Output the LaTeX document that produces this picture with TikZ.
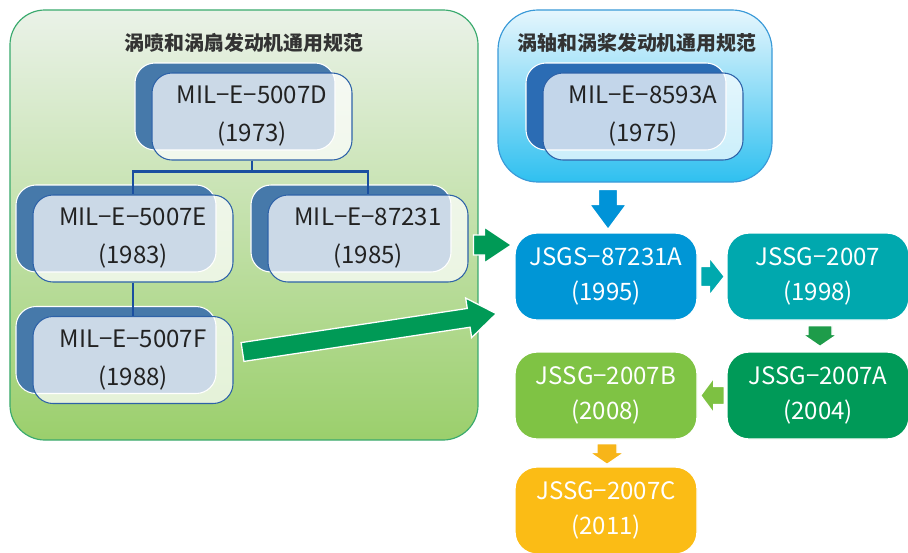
\documentclass[tikz,border=0pt]{standalone}
\usepackage{fontspec}
\setmainfont{Noto Sans CJK SC}
\usetikzlibrary{calc, shadows}
\definecolor{backblue}{RGB}{70,121,170}
\definecolor{backdeep}{RGB}{43,108,180}
\definecolor{frontline}{RGB}{46,98,168}
\definecolor{treeline}{RGB}{26,79,160}
\definecolor{textdark}{RGB}{34,34,34}
\definecolor{titlegray}{RGB}{51,51,51}
\definecolor{jetline}{RGB}{58,170,110}
\definecolor{jettop}{RGB}{234,242,232}
\definecolor{jetbottom}{RGB}{155,207,108}
\definecolor{shaftline}{RGB}{58,154,216}
\definecolor{shafttop}{RGB}{230,246,253}
\definecolor{shaftbottom}{RGB}{47,192,240}
\definecolor{jsgsblue}{RGB}{0,150,214}
\definecolor{jssgteal}{RGB}{0,168,174}
\definecolor{jssggreen}{RGB}{0,154,88}
\definecolor{jssglime}{RGB}{127,195,68}
\definecolor{jssgyellow}{RGB}{251,188,21}
\definecolor{arrowgreen}{RGB}{0,154,86}
\definecolor{arrowblue}{RGB}{0,147,216}
\definecolor{arrowteal}{RGB}{0,169,174}
\definecolor{arrowdark}{RGB}{30,156,74}
\definecolor{arrowlime}{RGB}{125,193,66}
\definecolor{arrowyellow}{RGB}{247,181,25}
\newcommand{\specfont}{\fontsize{20.5}{32.5}\selectfont}
\newcommand{\procfont}{\fontsize{20.5}{30.5}\selectfont}
% block arrow from #1 to #2: half shaft, half head, head length (px), colour
\newcommand{\fatarrow}[6]{%
  \coordinate (fa-base) at ($(#2)!#5*0.03cm!(#1)$);
  \filldraw[fill=#6, draw=white, line width=1.1pt, line join=miter]
    ($(#1)!#3*0.03cm!90:(#2)$) -- ($(fa-base)!#3*0.03cm!-90:(#1)$)
    -- ($(fa-base)!#4*0.03cm!-90:(#1)$) -- (#2)
    -- ($(fa-base)!#4*0.03cm!90:(#1)$) -- ($(fa-base)!#3*0.03cm!90:(#1)$)
    -- ($(#1)!#3*0.03cm!-90:(#2)$) -- cycle;
}
\tikzset{
  frame/.style    = {rectangle, rounded corners=1.05cm, line width=1pt},
  title/.style    = {font=\fontsize{17}{20}\selectfont\bfseries, text=titlegray},
  specbox/.style  = {rectangle, rounded corners=0.6cm, minimum width=6cm,
                     minimum height=2.61cm, inner sep=0pt, draw=frontline,
                     line width=0.9pt, fill=white, fill opacity=0.72,
                     text opacity=1, text=textdark, align=center, font=\specfont,
                     general shadow={shadow xshift=-0.51cm, shadow yshift=0.3cm,
                       fill=#1, fill opacity=1, draw=white, line width=0.9pt}},
  specbox/.default = backblue,
  procbox/.style  = {rectangle, rounded corners=0.66cm, minimum width=5.46cm,
                     minimum height=2.61cm, inner sep=0pt, fill=#1, draw=white,
                     line width=1.1pt, text=white, align=center, font=\procfont},
  tree/.style     = {draw=treeline, line width=2.1pt},
}
\begin{document}
\begin{tikzpicture}[x=0.03cm, y=-0.03cm]
  \useasboundingbox (0,0) rectangle (908,552);

  %─── Frames ────────────────────────────────────────────────────────────────
  \node[frame, draw=jetline, top color=jettop, bottom color=jetbottom,
        minimum width=14.04cm, minimum height=12.9cm] at (244,225) (jetframe) {};
  \node[frame, rounded corners=1.2cm, draw=shaftline, top color=shafttop,
        bottom color=shaftbottom, minimum width=8.22cm, minimum height=5.16cm]
        at (635,96) (shaftframe) {};
  \node[title] at (244,43)  (jettitle)   {涡喷和涡扇发动机通用规范};
  \node[title] at (637,43)  (shafttitle) {涡轴和涡桨发动机通用规范};

  %─── MIL-E specifications ──────────────────────────────────────────────────
  \node[specbox] at (252,116.5) (d5007)  {MIL−E−5007D\\(1973)};
  \node[specbox] at (133,238.5) (e5007)  {MIL−E−5007E\\(1983)};
  \node[specbox] at (368,238.5) (m87231) {MIL−E−87231\\(1985)};
  \node[specbox] at (133,360)   (f5007)  {MIL−E−5007F\\(1988)};
  \node[specbox=backdeep] at (643,116.5) (a8593) {MIL−E−8593A\\(1975)};

  %─── Tree lines ────────────────────────────────────────────────────────────
  \draw[tree] (d5007.south) -- ++(0,11) -| (e5007.north);
  \draw[tree] (d5007.south) -- ++(0,11) -| (m87231.north);
  \draw[tree] (e5007.south) -- (f5007.north);

  %─── JSGS / JSSG chain ─────────────────────────────────────────────────────
  \node[procbox=jsgsblue]   at (606,276.5) (jsgs)  {JSGS−87231A\\(1995)};
  \node[procbox=jssgteal]   at (818,276.5) (jssg)  {JSSG−2007\\(1998)};
  \node[procbox=jssggreen]  at (818,395.5) (jssga) {JSSG−2007A\\(2004)};
  \node[procbox=jssglime]   at (606,395.5) (jssgb) {JSSG−2007B\\(2008)};
  \node[procbox=jssgyellow] at (606,510.5) (jssgc) {JSSG−2007C\\(2011)};

  %─── Block arrows ──────────────────────────────────────────────────────────
  \coordinate (m-s) at ($(m87231.east)+(5,6.5)$);
  \coordinate (m-t) at ($(jsgs.west)+(-3,-31.5)$);
  \fatarrow{m-s}{m-t}{10}{18}{27}{arrowgreen}
  \coordinate (f-s) at ($(f5007.east)+(9,-8)$);
  \coordinate (f-t) at ($(jsgs.south west)+(-18,-7)$);
  \fatarrow{f-s}{f-t}{9.5}{20}{28}{arrowgreen}
  \coordinate (a-s) at ($(jsgs.north)+(2,-43)$);
  \coordinate (a-t) at ($(jsgs.north)+(2,-3)$);
  \fatarrow{a-s}{a-t}{9.5}{18.5}{25}{arrowblue}
  \coordinate (j-s) at ($(jsgs.east)+(3,0)$);
  \coordinate (j-t) at ($(jssg.west)+(-2,0)$);
  \fatarrow{j-s}{j-t}{10}{19}{15}{arrowteal}
  \coordinate (s-s) at ($(jssg.south)+(2,5)$);
  \coordinate (s-t) at ($(jssga.north)+(2,-5)$);
  \fatarrow{s-s}{s-t}{12}{17.5}{12}{arrowdark}
  \coordinate (sa-s) at ($(jssga.west)+(-2,0)$);
  \coordinate (sa-t) at ($(jssgb.east)+(3,0)$);
  \fatarrow{sa-s}{sa-t}{9}{17.5}{13}{arrowlime}
  \coordinate (sb-s) at ($(jssgb.south)+(1,4)$);
  \coordinate (sb-t) at ($(jssgc.north)+(1,-2)$);
  \fatarrow{sb-s}{sb-t}{10}{17.5}{12}{arrowyellow}

\end{tikzpicture}
\end{document}
